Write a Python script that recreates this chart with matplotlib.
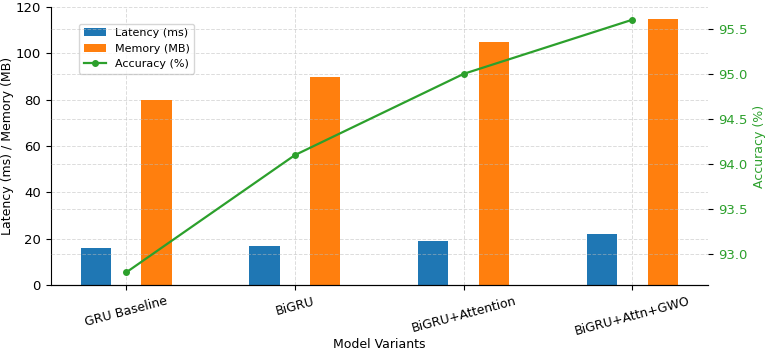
import numpy as np
import matplotlib
matplotlib.use("Agg")
import matplotlib.pyplot as plt

# Data
models = ["GRU Baseline", "BiGRU", "BiGRU+Attention", "BiGRU+Attn+GWO"]
latency_ms = [16, 17, 19, 22]
memory_mb = [80, 90, 105, 115]
accuracy_pct = [92.8, 94.1, 95.0, 95.6]

BLUE = "#1f77b4"
ORANGE = "#ff7f0e"
GREEN = "#2ca02c"

plt.rcParams.update({
    "font.family": "DejaVu Sans",
    "font.size": 9.5,
    "axes.labelsize": 9,
})

fig, ax1 = plt.subplots(figsize=(7.67, 3.52), dpi=100)
x = np.arange(len(models))
width = 0.18

b1 = ax1.bar(x - width, latency_ms, width, color=BLUE, label="Latency (ms)")
b2 = ax1.bar(x + width, memory_mb, width, color=ORANGE, label="Memory (MB)")
ax1.set_ylim(0, 120)
ax1.set_yticks(np.arange(0, 121, 20))
ax1.set_xticks(x)
ax1.set_xticklabels(models, rotation=15, fontsize=9)
ax1.set_xlabel("Model Variants", labelpad=0)
ax1.set_ylabel("Latency (ms) / Memory (MB)", labelpad=1)
ax1.grid(True, linestyle="--", alpha=0.5, color="#bbbbbb", linewidth=0.7)
ax1.set_axisbelow(True)

ax2 = ax1.twinx()
(l1,) = ax2.plot(x, accuracy_pct, color=GREEN, marker="o", markersize=4,
                 linewidth=1.6, label="Accuracy (%)")
ax2.set_ylabel("Accuracy (%)", color=GREEN)
ax2.tick_params(axis="y", labelcolor=GREEN)
ax2.grid(True, linestyle="--", alpha=0.5, color="#bbbbbb", linewidth=0.7)
ax2.set_yticks([93.0, 93.5, 94.0, 94.5, 95.0, 95.5])

ax1.spines["top"].set_visible(False)
ax1.spines["right"].set_visible(False)
for s in ("top", "left", "right"):
    ax2.spines[s].set_visible(False)

ax1.legend([b1, b2, l1], ["Latency (ms)", "Memory (MB)", "Accuracy (%)"],
           loc="upper left", bbox_to_anchor=(0.035, 0.96), fontsize=8)

fig.subplots_adjust(left=0.066, right=0.923, top=0.98, bottom=0.19)
fig.savefig("out.png", dpi=100)
